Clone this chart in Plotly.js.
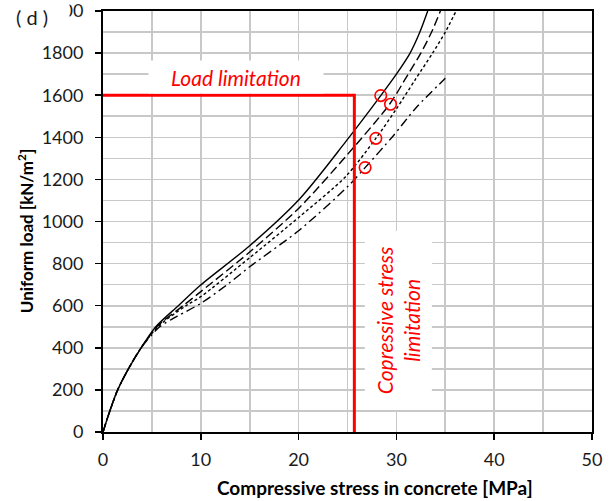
<!DOCTYPE html>
<html>
<head>
<meta charset="utf-8">
<script src="https://cdn.plot.ly/plotly-3.0.1.min.js"></script>
<style>
  html, body { margin: 0; padding: 0; background: #ffffff; }
  #chart { width: 614px; height: 501px; }
</style>
</head>
<body>
<div id="chart"></div>
<script>
// Load vs. compressive stress curves for four cases
const stressA = [0, 0.7, 1.5, 2.6, 3.9, 5.4, 7.7, 9.9, 15.0, 20.1, 24.8, 28.4, 30.0, 31.4, 32.4, 33.2];
const loadA   = [0, 100, 200, 300, 400, 500, 600, 695, 885, 1107, 1378, 1598, 1700, 1800, 1900, 2000];

const stressB = [0, 0.7, 1.5, 2.6, 3.9, 5.5, 8.2, 10.0, 15.0, 20.1, 24.8, 29.3, 31.2, 32.5, 33.6, 34.5];
const loadB   = [0, 100, 200, 300, 400, 500, 600, 667, 855, 1067, 1308, 1557, 1700, 1800, 1900, 2000];

const stressC = [0, 0.7, 1.5, 2.6, 3.9, 5.6, 8.5, 10.0, 15.0, 20.1, 24.8, 27.9, 30.0, 31.9, 33.7, 35.0, 36.1];
const loadC   = [0, 100, 200, 300, 400, 500, 600, 643, 828, 1023, 1213, 1395, 1535, 1672, 1800, 1900, 2000];

const stressD = [0, 0.7, 1.5, 2.6, 3.9, 5.8, 7.6, 10.0, 12.7, 15.0, 20.1, 25.0, 26.8, 29.6, 32.1, 35.0];
const loadD   = [0, 100, 200, 300, 400, 500, 550, 611, 700, 785, 960, 1165, 1256, 1403, 1545, 1680];

// Points where each case reaches its limit
const markStress = [28.4, 29.4, 27.9, 26.8];
const markLoad   = [1598, 1557, 1395, 1256];

// Design limits
const loadLimit = 1600;
const stressLimit = 25.7;

const fontFam = 'Lato, "Open Sans", "DejaVu Sans", sans-serif';
const gridCol = '#c8c8c8';

const curve = (x, y, dash) => ({
  x: x, y: y, type: 'scatter', mode: 'lines',
  line: { color: '#000000', width: 1.4, dash: dash, shape: 'spline', smoothing: 0.8 },
  hoverinfo: 'skip', showlegend: false
});

const traces = [
  curve(stressA, loadA, 'solid'),
  curve(stressB, loadB, '9px,4px'),
  curve(stressC, loadC, '3px,2.5px'),
  curve(stressD, loadD, '9px,4px,2px,4px'),
  {
    x: [0, stressLimit, stressLimit], y: [loadLimit, loadLimit, 0],
    type: 'scatter', mode: 'lines',
    line: { color: '#ff0000', width: 3 },
    hoverinfo: 'skip', showlegend: false
  },
  {
    x: markStress, y: markLoad, type: 'scatter', mode: 'markers',
    marker: { symbol: 'circle-open', size: 11.5, color: '#ff0000', line: { width: 1.6, color: '#ff0000' } },
    hoverinfo: 'skip', showlegend: false
  }
];

const axisCommon = {
  showgrid: true, gridcolor: gridCol, gridwidth: 1.6,
  showline: true, linecolor: '#000000', linewidth: 2, mirror: true,
  ticks: 'outside', ticklen: 6, tickwidth: 1.5, tickcolor: '#000000',
  zeroline: false, ticklabeloverflow: 'allow',
  tickfont: { family: fontFam, size: 18, color: '#1a1a1a' }
};

const titleFont = { family: fontFam, size: 17, color: '#000000', weight: 'bold' };

const layout = {
  width: 614, height: 501,
  margin: { l: 103, r: 22, t: 11, b: 69 },
  paper_bgcolor: '#ffffff', plot_bgcolor: '#ffffff',
  showlegend: false,
  xaxis: Object.assign({}, axisCommon, {
    range: [0, 50], tick0: 0, dtick: 10,
    minor: { dtick: 5, showgrid: true, gridcolor: gridCol, gridwidth: 1.6 },
    ticklabelstandoff: 4
  }),
  yaxis: Object.assign({}, axisCommon, {
    range: [0, 2000], tick0: 0, dtick: 200,
    minor: { dtick: 100, showgrid: true, gridcolor: gridCol, gridwidth: 1.6 },
    ticklabelstandoff: 8
  }),
  annotations: [
    {
      text: 'Compressive stress in concrete [MPa]', xref: 'paper', yref: 'paper',
      x: 0.556, y: -0.133, xanchor: 'center', yanchor: 'middle', showarrow: false,
      font: Object.assign({}, titleFont, { size: 19 })
    },
    {
      text: 'Uniform load [kN/m<sup>2</sup>]', xref: 'paper', yref: 'paper',
      x: -0.1595, y: 0.477, xanchor: 'center', yanchor: 'middle', showarrow: false,
      textangle: -90, font: titleFont
    },
    {
      text: 'Load limitation', xref: 'x', yref: 'y', x: 13.6, y: 1686,
      showarrow: false, bgcolor: '#ffffff', width: 172, height: 30,
      font: { family: fontFam, size: 21, color: '#ff0000', style: 'italic' }
    },
    {
      text: 'Copressive stress<br>limitation', xref: 'x', yref: 'y', x: 30.2, y: 532,
      showarrow: false, bgcolor: '#ffffff', width: 176, height: 64, textangle: -90,
      font: { family: fontFam, size: 21, color: '#ff0000', style: 'italic' }
    },
    {
      text: '( d )', xref: 'paper', yref: 'paper', x: -0.145, y: 0.986,
      xanchor: 'center', yanchor: 'middle',
      showarrow: false, bgcolor: '#ffffff', width: 72, height: 34,
      font: { family: fontFam, size: 20, color: '#1a1a1a' }
    }
  ]
};

Plotly.newPlot('chart', traces, layout, { staticPlot: true, displayModeBar: false });
</script>
</body>
</html>
